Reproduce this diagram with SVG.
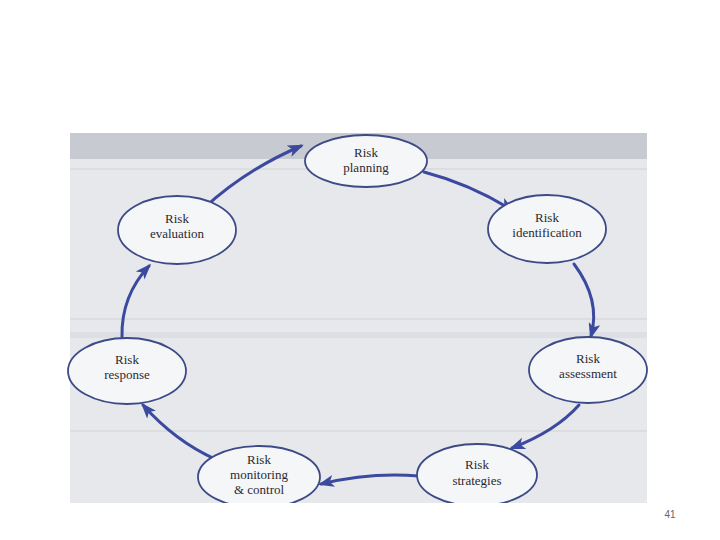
<svg xmlns="http://www.w3.org/2000/svg" width="720" height="540" viewBox="0 0 720 540">
<style>
.bg{fill:#e6e8ec}
.band{fill:#c7cad0}
.stripe{fill:#d3d6db}
.node ellipse{fill:#f5f6f8;stroke:#3d4a86;stroke-width:1.8}
.node text{font-family:"Liberation Serif","DejaVu Serif",serif;font-size:13px;fill:#2a2a30;text-anchor:middle}
.conn path{fill:none;stroke:#3b4a9e;stroke-width:3;stroke-linecap:round}
.pg{font-family:"Liberation Sans",Arial,sans-serif;font-size:10px;fill:#666}
</style>
<defs>
<marker id="ah" markerWidth="16" markerHeight="12" refX="13" refY="6" orient="auto" markerUnits="userSpaceOnUse">
<path d="M0,0 L16,6 L0,12 L4,6 Z" fill="#3b4a9e"/>
</marker>
</defs>
<rect width="720" height="540" fill="#ffffff"/>
<g id="background">
<rect class="bg" x="70" y="133" width="577" height="370"/>
<rect class="band" x="70" y="133" width="577" height="26"/>
<rect class="stripe" x="70" y="168" width="577" height="2" opacity="0.6"/>
<rect class="stripe" x="70" y="318" width="577" height="2" opacity="0.6"/>
<rect class="stripe" x="70" y="332" width="577" height="6" opacity="0.5"/>
<rect class="stripe" x="70" y="430" width="577" height="2" opacity="0.6"/>
</g>
<g class="conn" id="connectors">
<path d="M203 209 Q245 170 301 146" marker-end="url(#ah)"/>
<path d="M424 172 Q470 184 512 210" marker-end="url(#ah)"/>
<path d="M574 264 Q601 300 591 336" marker-end="url(#ah)"/>
<path d="M579 405 Q556 431 512 448" marker-end="url(#ah)"/>
<path d="M419 476 Q370 472 321 484" marker-end="url(#ah)"/>
<path d="M215 459 Q175 441 143 405" marker-end="url(#ah)"/>
<path d="M122 337 Q121 296 149 266" marker-end="url(#ah)"/>
</g>
<g class="node" id="planning">
<ellipse cx="366" cy="161" rx="61" ry="26"/>
<text x="366" y="157">Risk</text>
<text x="366" y="172">planning</text>
</g>
<g class="node" id="identification">
<ellipse cx="547" cy="229" rx="59" ry="34"/>
<text x="547" y="222">Risk</text>
<text x="547" y="237">identification</text>
</g>
<g class="node" id="assessment">
<ellipse cx="588" cy="370" rx="59" ry="33"/>
<text x="588" y="363">Risk</text>
<text x="588" y="378">assessment</text>
</g>
<g class="node" id="strategies">
<ellipse cx="477" cy="475" rx="60" ry="31"/>
<text x="477" y="469">Risk</text>
<text x="477" y="485">strategies</text>
</g>
<g class="node" id="monitoring">
<ellipse cx="259" cy="477" rx="61" ry="31"/>
<text x="259" y="464">Risk</text>
<text x="259" y="479">monitoring</text>
<text x="259" y="494">&amp; control</text>
</g>
<g class="node" id="response">
<ellipse cx="127" cy="371" rx="59" ry="33"/>
<text x="127" y="364">Risk</text>
<text x="127" y="379">response</text>
</g>
<g class="node" id="evaluation">
<ellipse cx="177" cy="230" rx="59" ry="34"/>
<text x="177" y="223">Risk</text>
<text x="177" y="238">evaluation</text>
</g>
<rect x="70" y="503" width="577" height="10" fill="#ffffff"/>
<text class="pg" x="670" y="518" text-anchor="middle">41</text>
</svg>
